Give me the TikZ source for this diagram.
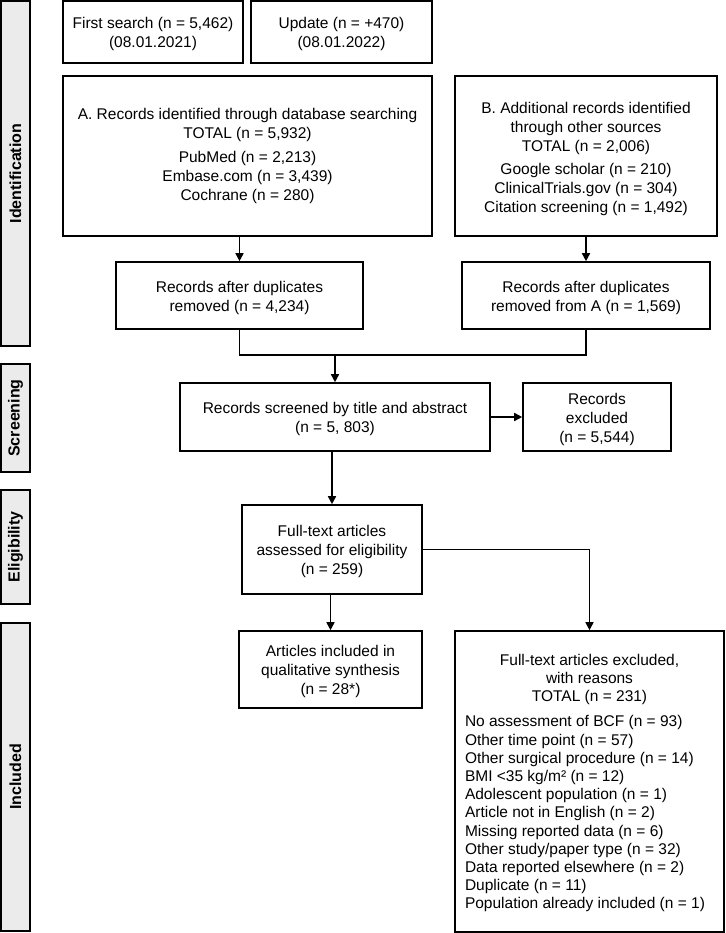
\documentclass[tikz,border=0pt]{standalone}
\usepackage{fontspec}
\setmainfont{Liberation Sans}
\usetikzlibrary{arrows.meta}
\definecolor{barfill}{HTML}{EBEBEB}
\newcommand\bxt[2][2.5pt]{\raisebox{-#1}[\height][\depth]{\begin{tabular}{@{}c@{}}#2\end{tabular}}}
\tikzset{
  box/.style={draw=black, line width=1.6pt, fill=white, inner sep=0pt,
              font=\fontsize{15.5}{19}\selectfont},
  sidebar/.style={draw=black, line width=1.6pt, fill=barfill, inner sep=0pt},
  sidelabel/.style={rotate=90, font=\fontsize{16}{18}\selectfont\bfseries, inner sep=0pt},
  conn/.style={line width=1.6pt},
  arr/.style={line width=1.6pt, -{Triangle[length=8pt,width=8pt]}}
}
\begin{document}
\begin{tikzpicture}[x=1pt,y=-1pt]
\useasboundingbox (0,0) rectangle (725,933);

% side bars
\node[sidebar, minimum width=29, minimum height=345] (sbI) at (15.5,173.5) {};
\node[sidelabel] (lI) at (sbI.center) {Identification};
\node[sidebar, minimum width=29, minimum height=108] (sbS) at (15.5,418) {};
\node[sidelabel] (lS) at (sbS.center) {Screening};
\node[sidebar, minimum width=29, minimum height=114] (sbE) at (15.5,547) {};
\node[sidelabel] (lE) at (sbE.center) {Eligibility};
\node[sidebar, minimum width=29, minimum height=308] (sbN) at (15.5,777) {};
\node[sidelabel] (lN) at (sbN.center) {Included};

% boxes
\node[box, minimum width=180, minimum height=62] (first) at (153,32)
  {\bxt{First search (n = 5,462)\\(08.01.2021)}};
\node[box, minimum width=181, minimum height=62] (update) at (341.5,32)
  {\bxt{Update (n = +470)\\(08.01.2022)}};
\node[box, minimum width=369, minimum height=160] (A) at (247.5,156)
  {\bxt[0pt]{A. Records identified through database searching\\TOTAL (n = 5,932)\\[5pt]
   PubMed (n = 2,213)\\Embase.com (n = 3,439)\\Cochrane (n = 280)}};
\node[box, minimum width=262, minimum height=160] (B) at (586,156)
  {\bxt[3.5pt]{B. Additional records identified\\through other sources\\TOTAL (n = 2,006)\\[4pt]
   Google scholar (n = 210)\\ClinicalTrials.gov (n = 304)\\Citation screening (n = 1,492)}};
\node[box, minimum width=247, minimum height=67] (dupA) at (239.5,295.5)
  {\bxt{Records after duplicates\\removed (n = 4,234)}};
\node[box, minimum width=248, minimum height=67] (dupB) at (586,295.5)
  {\bxt{Records after duplicates\\removed from A (n = 1,569)}};
\node[box, minimum width=310, minimum height=68] (screen) at (335,417)
  {\bxt{Records screened by title and abstract\\(n = 5, 803)}};
\node[box, minimum width=148, minimum height=68] (excl) at (597,417)
  {\bxt{Records\\excluded\\(n = 5,544)}};
\node[box, minimum width=180, minimum height=89] (ft) at (332,549.5)
  {\bxt{Full-text articles\\assessed for eligibility\\(n = 259)}};
\node[box, minimum width=183, minimum height=77] (incl) at (330.5,669.5)
  {\bxt{Articles included in\\qualitative synthesis\\(n = 28*)}};
\node[box, minimum width=269, minimum height=301] (exclft) at (589.5,781.5)
  {\raisebox{-1.5pt}[\height][\depth]{\begin{minipage}{249pt}\fontsize{15.5}{18.2}\selectfont
   \centering Full-text articles excluded,\\with reasons\\TOTAL (n = 231)\par
   \vspace{7pt}\raggedright
   No assessment of BCF (n = 93)\\
   Other time point (n = 57)\\
   Other surgical procedure (n = 14)\\
   BMI <35 kg/m² (n = 12)\\
   Adolescent population (n = 1)\\
   Article not in English (n = 2)\\
   Missing reported data (n = 6)\\
   Other study/paper type (n = 32)\\
   Data reported elsewhere (n = 2)\\
   Duplicate (n = 11)\\
   Population already included (n = 1)
   \end{minipage}}};

% connectors
\coordinate (m) at (335,355);
\draw[arr] (dupA.north |- A.south) -- (dupA.north);
\draw[arr] (dupB.north |- B.south) -- (dupB.north);
\draw[conn] (dupA.south) -- (dupA.south |- m) -- (dupB.south |- m) -- (dupB.south);
\draw[arr] (screen.north |- m) -- (screen.north);
\draw[arr] (screen.east) -- (excl.west);
\draw[arr] (ft.north |- screen.south) -- (ft.north);
\draw[arr] (incl.north |- ft.south) -- (incl.north);
\draw[arr] (ft.east) -| (exclft.north);
\end{tikzpicture}
\end{document}
